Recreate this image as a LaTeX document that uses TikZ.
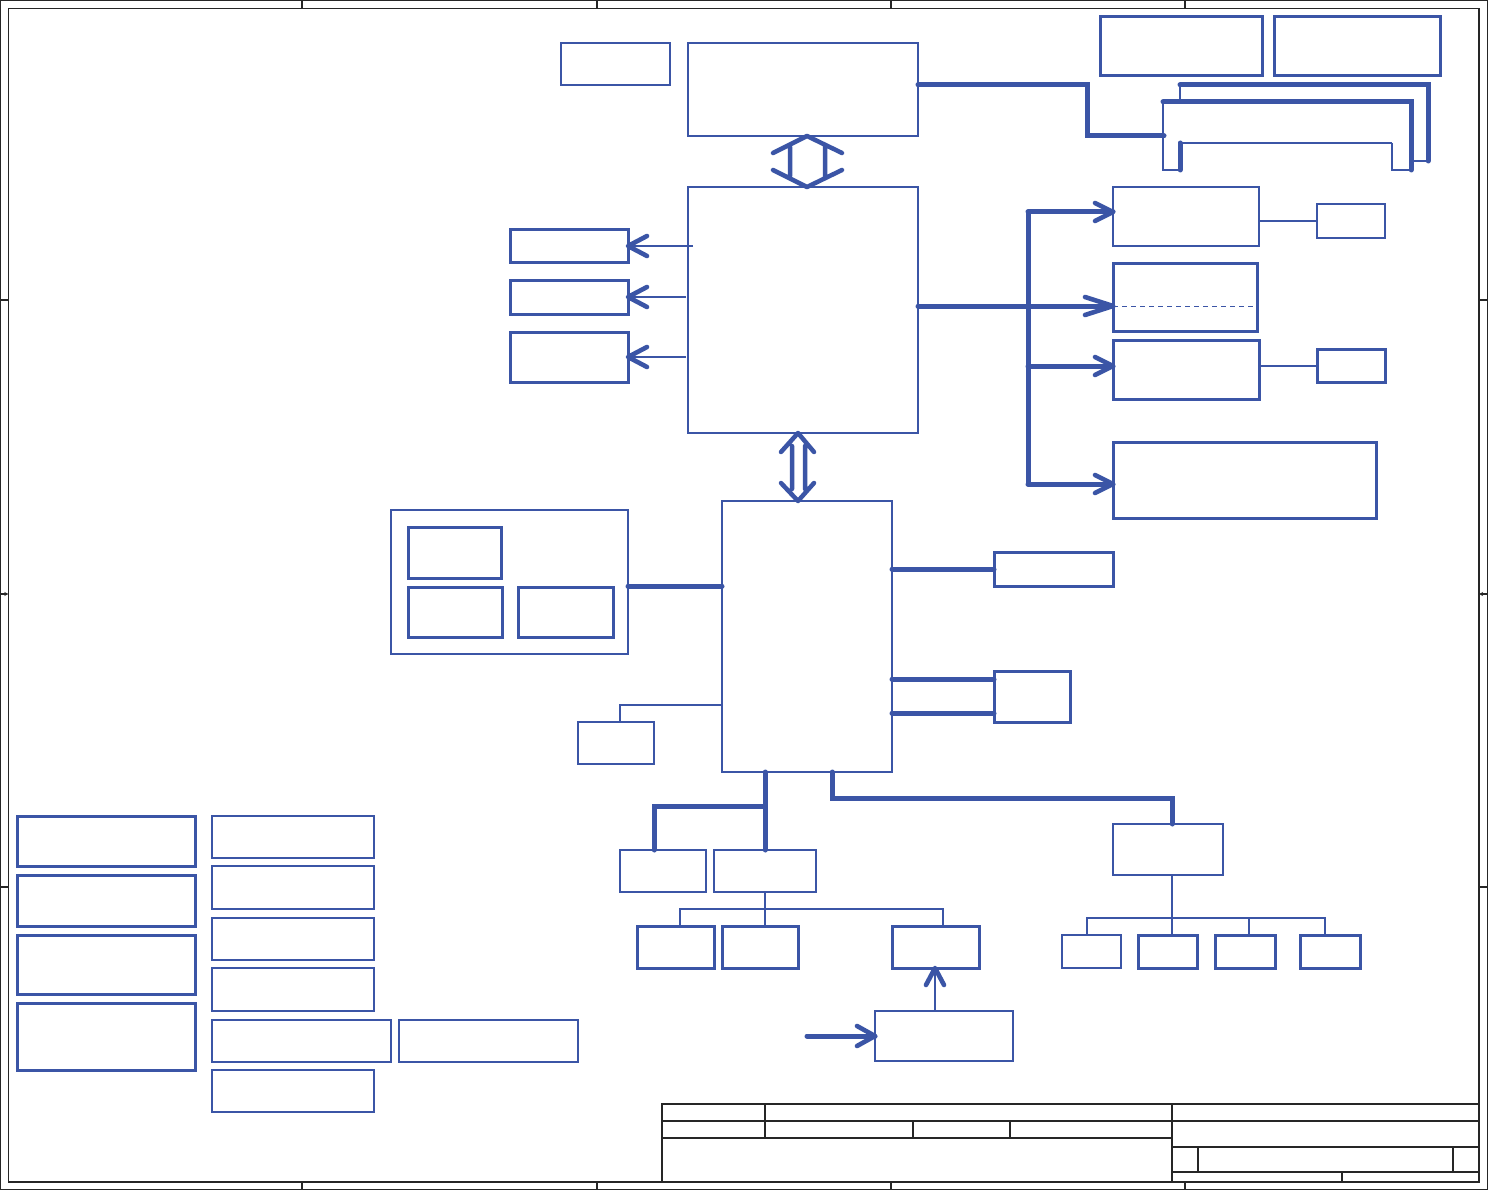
\documentclass[tikz,border=0pt]{standalone}
\usetikzlibrary{arrows.meta}
\definecolor{sch}{RGB}{59,85,166}
\newcommand\blk[6]{\node[#1, minimum width={(#5-#3)*1pt}, minimum height={(#6-#4)*1pt}] (#2) at (#3,#4) {};}
\begin{document}
\begin{tikzpicture}[x=1pt,y=-1pt,
 bx/.style={draw=sch, line width=2.4pt, inner sep=0pt, outer sep=0pt, anchor=north west},
 bxk/.style={bx, line width=3pt},
 bus/.style={draw=sch, line width=5pt, line cap=round, line join=miter},
 wire/.style={draw=sch, line width=2pt},
 mid/.style={draw=sch, line width=2.8pt},
 frm/.style={draw=black!85, line width=1.2pt},
 head/.style={draw=sch, line width=4.6pt, line cap=round, line join=round},
]
\fill[white] (0,0) rectangle (1488,1190);
\useasboundingbox (0,0) rectangle (1488,1190);

% ---------- frame ----------
\draw[frm] (0.8,0.8) rectangle (1487.2,1189.2);
\draw[frm] (8.3,8.3) rectangle (1479,1182);
\foreach \x in {302,597,891,1185}{
  \draw[frm] (\x,0.8) -- (\x,8.3);
  \draw[frm] (\x,1182) -- (\x,1189.2);
}
\foreach \y in {300,887}{
  \draw[frm] (0.8,\y) -- (8.3,\y);
  \draw[frm] (1479,\y) -- (1487.2,\y);
}
\draw[frm, -{Stealth[length=4pt,width=4pt]}] (0.8,594) -- (8.3,594);
\draw[frm, -{Stealth[length=4pt,width=4pt]}] (1487.2,594) -- (1479,594);

% ---------- title block ----------
\draw[frm] (662,1104) rectangle (1479,1182);
\draw[frm] (662,1121) -- (1479,1121);
\draw[frm] (662,1138) -- (1172,1138);
\draw[frm] (765,1104) -- (765,1138);
\draw[frm] (913,1121) -- (913,1138);
\draw[frm] (1010,1121) -- (1010,1138);
\draw[frm] (1172,1104) -- (1172,1182);
\draw[frm] (1172,1147) -- (1479,1147);
\draw[frm] (1172,1172) -- (1479,1172);
\draw[frm] (1198,1147) -- (1198,1172);
\draw[frm] (1453,1147) -- (1453,1172);
\draw[frm] (1342,1172) -- (1342,1182);

% ---------- boxes ----------
\blk{bx}{a}{561}{43}{670}{85}
\blk{bx}{cpu}{688}{43}{918}{136}
\blk{bxk}{b1}{1100}{17}{1262}{76}
\blk{bxk}{b2}{1274}{17}{1440}{76}
\blk{bx}{nb}{688}{187}{918}{433}
\blk{bxk}{l1}{510}{230}{628}{263}
\blk{bxk}{l2}{510}{281}{628}{314}
\blk{bxk}{l3}{510}{332}{628}{382}
\blk{bx}{r1}{1113}{187}{1259}{246}
\blk{bxk}{r2}{1113}{264}{1257}{331}
\blk{bxk}{r3}{1113}{340}{1259}{399}
\blk{bxk}{r4}{1113}{442}{1376}{518}
\blk{bx}{s1}{1317}{204}{1385}{238}
\blk{bxk}{s2}{1317}{349}{1385}{382}
\blk{bx}{sb}{722}{501}{892}{772}
\blk{bx}{grp}{391}{510}{628}{654}
\blk{bxk}{g1}{408}{527}{501}{578}
\blk{bxk}{g2}{408}{587}{502}{637}
\blk{bxk}{g3}{518}{587}{613}{637}
\blk{bx}{c1}{578}{722}{654}{764}
\blk{bxk}{e1}{994}{552}{1113}{586}
\blk{bxk}{e2}{994}{671}{1070}{722}
\blk{bx}{u1}{620}{850}{706}{892}
\blk{bx}{u2}{714}{850}{816}{892}
\blk{bxk}{v1}{637}{926}{714}{968}
\blk{bxk}{v2}{722}{926}{798}{968}
\blk{bxk}{v3}{892}{926}{979}{968}
\blk{bx}{w}{875}{1011}{1013}{1061}
\blk{bx}{hub}{1113}{824}{1223}{875}
\blk{bx}{p1}{1062}{935}{1121}{968}
\blk{bxk}{p2}{1138}{935}{1197}{968}
\blk{bxk}{p3}{1215}{935}{1275}{968}
\blk{bxk}{p4}{1300}{935}{1360}{968}
\blk{bxk}{k1}{17}{816}{195}{866}
\blk{bxk}{k2}{17}{875}{195}{926}
\blk{bxk}{k3}{17}{935}{195}{994}
\blk{bxk}{k4}{17}{1003}{195}{1070}
\blk{bx}{m1}{212}{816}{374}{858}
\blk{bx}{m2}{212}{866}{374}{909}
\blk{bx}{m3}{212}{918}{374}{960}
\blk{bx}{m4}{212}{968}{374}{1011}
\blk{bx}{m5}{212}{1020}{391}{1062}
\blk{bx}{m6}{399}{1020}{578}{1062}
\blk{bx}{m7}{212}{1070}{374}{1112}

% ---------- memory bus and slots ----------
\draw[bus] (cpu.east |- 0,85) -- (1087,85) -- (1087,136) -- (1164,136);
\draw[wire] (1180,100) -- (1180,85);
\draw[bus] (1180,85) -- (1428,85) -- (1428,161);
\draw[mid] (1428,161) -- (1413,161);
\draw[bus] (1163,102) -- (1411,102) -- (1411,170);
\draw[wire] (1163,102) -- (1163,170) -- (1180,170);
\draw[bus] (1180,143) -- (1180,170);
\draw[mid] (1180,143) -- (1392,143);
\draw[wire] (1392,143) -- (1392,170) -- (1411,170);

% ---------- double arrows ----------
\draw[sch, line width=4.5pt, line cap=round, line join=round]
  (773,153) -- (807,136) -- (842,153)
  (773,170) -- (807,187) -- (842,170)
  (790,147) -- (790,176) (825,147) -- (825,176);
\draw[sch, line width=4.5pt, line cap=round, line join=round]
  (781,452) -- (798,433) -- (814,452)
  (781,483) -- (798,501) -- (814,483)
  (792,446) -- (792,489) (805,446) -- (805,489);

% ---------- NB left ----------
\draw[mid] (693,246) -- (l1.east |- 0,246);
\draw[head] (l1.east |- 0,246) ++(19,-10) -- ++(-19,10) -- ++(19,10);
\draw[mid] (686,297) -- (l2.east |- 0,297);
\draw[head] (l2.east |- 0,297) ++(19,-10) -- ++(-19,10) -- ++(19,10);
\draw[wire] (686,357) -- (l3.east |- 0,357);
\draw[head] (l3.east |- 0,357) ++(19,-10) -- ++(-19,10) -- ++(19,10);

% ---------- NB right ----------
\draw[bus] (nb.east |- 0,306) -- (1028,306);
\draw[bus] (1028,212) -- (1028,484);
\draw[bus] (1028,212) -- (r1.west |- 0,212);
\draw[head] (r1.west |- 0,212) ++(-18,-9) -- ++(18,9) -- ++(-18,9);
\draw[bus] (1028,306) -- (r2.west |- 0,306);
\draw[head] (r2.west |- 0,306) ++(-28,-9) -- ++(28,9) -- ++(-28,9);
\draw[bus] (1028,366) -- (r3.west |- 0,366);
\draw[head] (r3.west |- 0,366) ++(-18,-9) -- ++(18,9) -- ++(-18,9);
\draw[bus] (1028,484) -- (r4.west |- 0,484);
\draw[head] (r4.west |- 0,484) ++(-18,-9) -- ++(18,9) -- ++(-18,9);
\draw[sch, line width=1pt, dash pattern=on 5pt off 4pt] (r2.west |- 0,306) -- (r2.east |- 0,306);
\draw[wire] (r1.east |- 0,221) -- (s1.west |- 0,221);
\draw[wire] (r3.east |- 0,366) -- (s2.west |- 0,366);

% ---------- SB ----------
\draw[bus] (grp.east |- 0,586) -- (sb.west |- 0,586);
\draw[mid] (sb.west |- 0,705) -- (620,705) -- (c1.north -| 620,0);
\draw[bus] (sb.east |- 0,569) -- (e1.west |- 0,569);
\draw[bus] (sb.east |- 0,679) -- (e2.west |- 0,679);
\draw[bus] (sb.east |- 0,713) -- (e2.west |- 0,713);

\draw[bus] (sb.south -| 765,0) -- (u2.north -| 765,0);
\draw[bus] (765,806) -- (654,806) -- (u1.north -| 654,0);
\draw[wire] (u2.south -| 765,0) -- (765,909);
\draw[wire] (v1.north -| 680,0) -- (680,909) -- (943,909) -- (v3.north -| 943,0);
\draw[wire] (765,909) -- (v2.north -| 765,0);
\draw[wire] (w.north -| 935,0) -- (v3.south -| 935,0);
\draw[head] (v3.south -| 935,0) ++(-9,17) -- ++(9,-17) -- ++(9,17);
\coordinate (win) at (807,1036);
\draw[bus] (win) -- (w.west |- 0,1036);
\draw[head] (w.west |- 0,1036) ++(-18,-10) -- ++(18,10) -- ++(-18,10);

\draw[bus] (sb.south -| 832,0) -- (832,798) -- (1172,798) -- (hub.north -| 1172,0);
\draw[mid] (hub.south -| 1172,0) -- (1172,918);
\draw[mid] (p1.north -| 1087,0) -- (1087,918) -- (1325,918) -- (p4.north -| 1325,0);
\draw[mid] (1172,918) -- (p2.north -| 1172,0);
\draw[mid] (1249,918) -- (p3.north -| 1249,0);
\end{tikzpicture}
\end{document}
